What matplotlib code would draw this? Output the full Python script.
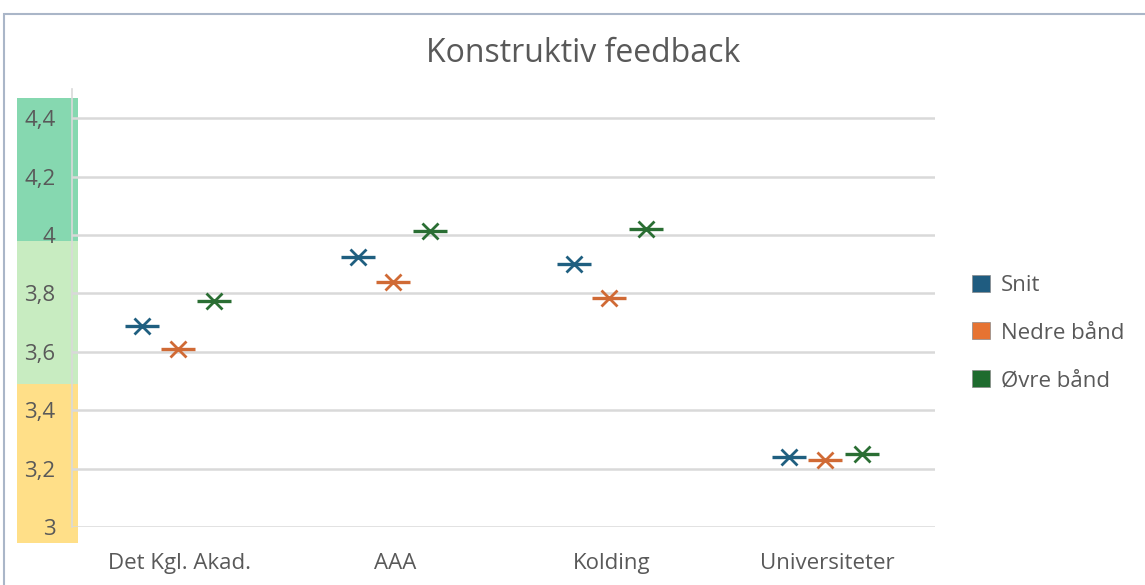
import matplotlib
matplotlib.use("Agg")
import numpy as np
from matplotlib import pyplot as plt
from matplotlib.patches import Patch, Rectangle
from matplotlib.ticker import FuncFormatter
from matplotlib.transforms import blended_transform_factory

categories = ["Det Kgl. Akad.", "AAA", "Kolding", "Universiteter"]
snit = [3.69, 3.925, 3.90, 3.24]
nedre = [3.61, 3.84, 3.785, 3.23]
ovre = [3.775, 4.012, 4.02, 3.25]
series_names = ["Snit", "Nedre bånd", "Øvre bånd"]
series_colors = ["#1f5f80", "#d06a35", "#2a6e33"]
legend_colors = ["#1f5c80", "#e67332", "#1e6b2e"]
# coloured bands behind the y tick labels (lower, upper, colour)
bands = [(2.945, 3.49, "#ffdf88"), (3.49, 3.98, "#c8ecc1"), (3.98, 4.47, "#86d8b0")]
yticks = [3, 3.2, 3.4, 3.6, 3.8, 4, 4.2, 4.4]

plt.rcParams['font.family'] = ['Open Sans', 'DejaVu Sans']
text_color = "#595959"

fig = plt.figure(figsize=(11.45, 5.85), dpi=100)
ax = fig.add_axes([72 / 1145, 1 - 527 / 585, (935 - 72) / 1145, (527 - 89) / 585])

# outer frame of the chart
fig.patches.append(Rectangle((4 / 1145, -0.1), 1.2, 1.1 - 14 / 585, transform=fig.transFigure,
                             fill=False, edgecolor="#aab6c8", linewidth=1.5))

trans = blended_transform_factory(fig.transFigure, ax.transData)
for lo, hi, c in bands:
    ax.add_patch(Rectangle((17 / 1145, lo), (78 - 17) / 1145, hi - lo, transform=trans,
                           facecolor=c, edgecolor="none", clip_on=False, zorder=0))

x = np.arange(len(categories))
offsets = [-0.175, -0.01, 0.16]
for vals, off, col in zip([snit, nedre, ovre], offsets, series_colors):
    ax.plot(x + off, vals, linestyle="none", marker="_", markersize=25, markeredgewidth=2.4,
            color=col, zorder=3)
    ax.plot(x + off, vals, linestyle="none", marker="x", markersize=12, markeredgewidth=2.0,
            color=col, zorder=3)

ax.set_xlim(-0.5, len(categories) - 0.5)
ax.set_ylim(3, 4.5)
ax.set_yticks(yticks)
ax.yaxis.set_major_formatter(FuncFormatter(lambda v, p: f"{v:g}".replace(".", ",")))
ax.set_xticks(x)
ax.set_xticklabels(categories)
ax.tick_params(axis="both", length=0, labelsize=16, labelcolor=text_color)
ax.tick_params(axis="y", pad=12)
ax.tick_params(axis="x", pad=19)
ax.grid(axis="y", color="#d9d9d9", linewidth=1.8)
ax.set_axisbelow(True)
for s in ["top", "right", "bottom"]:
    ax.spines[s].set_visible(False)
ax.spines["left"].set_color("#d9d9d9")
ax.spines["left"].set_linewidth(1.2)
ax.set_facecolor("none")

fig.text(583 / 1145, 1 - 54 / 585, "Konstruktiv feedback", ha="center", va="center",
         fontsize=23, color=text_color)

handles = [Patch(facecolor=c, edgecolor="#8a8a8a", linewidth=0.5) for c in legend_colors]
fig.legend(handles, series_names, loc="center left", bbox_to_anchor=(952 / 1145, 1 - 333 / 585),
           frameon=False, fontsize=16, labelcolor=text_color, handlelength=0.8, handleheight=0.8,
           labelspacing=1.2, handletextpad=0.5)

fig.savefig("out.png", dpi=100)
